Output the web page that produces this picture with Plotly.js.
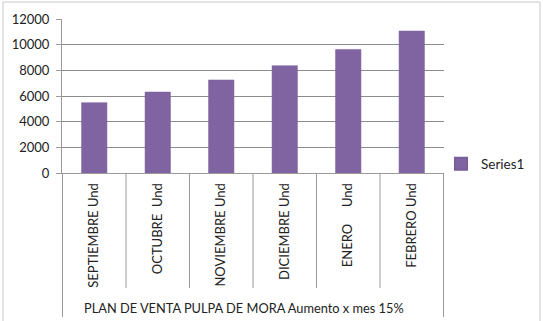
<!DOCTYPE html>
<html><head><meta charset="utf-8">
<script src="https://cdn.plot.ly/plotly-3.0.1.min.js"></script>
<style>html,body{margin:0;padding:0;background:#fff;}#chart{width:543px;height:321px;}</style>
</head><body><div id="chart"></div>
<script>
const categories = ["SEPTIEMBRE Und", "OCTUBRE  Und", "NOVIEMBRE Und", "DICIEMBRE Und", "ENERO     Und", "FEBRERO Und"];
const series1 = [5480, 6310, 7250, 8360, 9630, 11060];
const yTicks = [0, 2000, 4000, 6000, 8000, 10000, 12000];
const groupTitle = "PLAN DE VENTA PULPA DE MORA Aumento x mes 15%";
const seriesName = "Series1";

const L = 62, R = 99, T = 19, B = 148;
const plotW = 543 - L - R, plotH = 321 - T - B;
const px2y = py => (321 - B - py) / plotH;
const px2x = px => (px - L) / plotW;

const shapes = [];
for (let i = 0; i <= categories.length; i++) {
  const edge = (i === 0 || i === categories.length);
  shapes.push({type: 'line', xref: 'x', yref: 'paper', x0: i - 0.5, x1: i - 0.5,
    y0: 0, y1: px2y(edge ? 317 : 288), line: {color: '#9a9a9a', width: 1}});
}
shapes.push({type: 'rect', xref: 'paper', yref: 'paper', x0: px2x(3), x1: px2x(540),
  y0: px2y(330), y1: px2y(2), line: {color: '#c8c8c8', width: 1}, fillcolor: 'rgba(0,0,0,0)'});

const font = 'Lato, "Open Sans", sans-serif';
Plotly.newPlot('chart', [{
  type: 'bar', x: categories, y: series1, name: seriesName,
  marker: {color: '#8064A2', line: {color: '#7a5e9c', width: 0.5}}
}], {
  width: 543, height: 321,
  margin: {l: L, r: R, t: T, b: B, pad: 0, autoexpand: false},
  paper_bgcolor: '#fff', plot_bgcolor: '#fff',
  bargap: 0.6,
  showlegend: true,
  legend: {x: px2x(441), y: px2y(164), xanchor: 'left', yanchor: 'middle',
    font: {family: font, size: 13.5, color: '#222'}, itemwidth: 30, itemsizing: 'constant',
    bgcolor: 'rgba(0,0,0,0)'},
  xaxis: {type: 'category', tickangle: -90, showgrid: false, ticks: '', showline: true,
    linecolor: '#9a9a9a', linewidth: 1, tickfont: {family: font, size: 13, color: '#222'},
    ticklabelstandoff: 4, fixedrange: true},
  yaxis: {range: [0, 12000], tickvals: yTicks, ticktext: yTicks.map(String), showgrid: true,
    gridcolor: '#8c8c8c', gridwidth: 1, showline: true, linecolor: '#9a9a9a', ticks: 'outside',
    ticklen: 5, tickcolor: '#9a9a9a', tickfont: {family: font, size: 13, color: '#222'},
    ticklabelstandoff: 4, zeroline: false, fixedrange: true},
  shapes: shapes,
  annotations: [{xref: 'paper', yref: 'paper', x: px2x(244), y: px2y(308), text: groupTitle,
    showarrow: false, xanchor: 'center', yanchor: 'middle', font: {family: font, size: 12.8, color: '#222'}}]
}, {staticPlot: true});
</script></body></html>
